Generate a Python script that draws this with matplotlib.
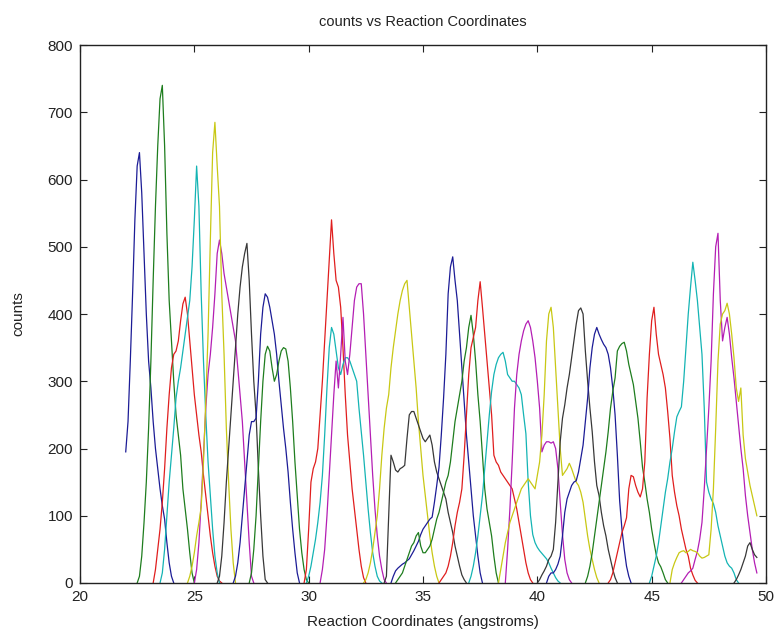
import numpy as np
import matplotlib.pyplot as plt

plt.rcParams['font.family'] = ['Liberation Sans', 'DejaVu Sans']

# histogram bin width (angstroms) and first bin of each umbrella window
bin_width = 0.1
window_starts = [22.0, 22.5, 23.2, 23.5, 25.0, 24.7, 26.0,
                 26.7, 27.4, 29.8, 29.9, 30.5, 32.4, 33.3,
                 33.6, 33.8, 35.7, 37.0, 38.6, 38.3, 40.0,
                 40.4, 42.1, 43.1, 44.9, 46.3, 45.8, 48.6]

# counts per bin, one list per window
win01 = [195, 240, 330, 430, 540, 620, 640, 580, 490, 400, 330, 290, 240, 200, 170, 140, 115, 95, 60, 30, 10, 0]
win02 = [0, 10, 40, 90, 150, 230, 330, 450, 560, 650, 720, 740, 650, 520, 420, 360, 300, 250, 220, 190, 140, 110, 80, 45, 15, 0]
win03 = [0, 20, 50, 80, 120, 170, 230, 280, 320, 340, 345, 360, 390, 415, 425, 400, 360, 320, 280, 250, 220, 195, 160, 130, 100, 70, 45, 25, 10, 3, 0]
win04 = [0, 15, 50, 100, 150, 190, 230, 275, 300, 320, 345, 370, 395, 420, 470, 540, 620, 560, 430, 330, 250, 180, 130, 80, 40, 15, 0]
win05 = [0, 20, 60, 120, 190, 260, 310, 340, 380, 430, 490, 510, 490, 460, 440, 420, 400, 380, 360, 320, 280, 240, 180, 120, 60, 10, 0]
win06 = [0, 10, 25, 45, 70, 90, 113, 180, 270, 370, 510, 640, 685, 620, 560, 430, 340, 230, 150, 80, 30, 0]
win07 = [0, 10, 40, 90, 150, 200, 250, 300, 350, 400, 440, 470, 490, 505, 450, 370, 300, 250, 170, 100, 40, 5, 0]
win08 = [0, 10, 30, 60, 100, 140, 180, 220, 240, 240, 245, 300, 370, 410, 430, 425, 410, 390, 370, 340, 300, 265, 230, 200, 165, 120, 80, 45, 15, 0]
win09 = [0, 15, 50, 100, 170, 240, 300, 340, 352, 345, 320, 300, 310, 330, 345, 350, 348, 330, 290, 240, 180, 130, 80, 45, 20, 5, 0]
win10 = [0, 20, 80, 150, 170, 180, 200, 250, 300, 360, 420, 480, 540, 490, 450, 440, 410, 350, 280, 220, 180, 140, 110, 80, 50, 25, 8, 0]
win11 = [0, 10, 25, 45, 65, 90, 120, 160, 220, 290, 350, 380, 370, 345, 320, 310, 325, 335, 335, 330, 320, 310, 300, 260, 225, 190, 150, 110, 75, 45, 25, 10, 3, 0]
win12 = [0, 20, 50, 100, 160, 220, 280, 330, 290, 340, 395, 330, 310, 340, 380, 420, 440, 445, 445, 400, 340, 280, 220, 160, 110, 70, 40, 20, 5, 0]
win13 = [0, 5, 15, 30, 50, 75, 100, 140, 190, 230, 260, 280, 320, 350, 375, 400, 420, 435, 445, 450, 410, 370, 330, 290, 240, 200, 160, 130, 100, 70, 45, 25, 10, 0]
win14 = [0, 10, 100, 190, 180, 168, 165, 170, 172, 175, 215, 250, 255, 255, 245, 235, 225, 215, 210, 215, 220, 205, 180, 165, 155, 145, 135, 125, 105, 90, 75, 55, 40, 25, 12, 5, 0]
win15 = [0, 10, 18, 22, 25, 28, 30, 33, 36, 42, 48, 55, 62, 72, 80, 85, 90, 95, 98, 120, 145, 172, 220, 275, 340, 430, 470, 485, 450, 420, 370, 320, 270, 220, 180, 140, 100, 70, 40, 15, 0]
win16 = [0, 5, 10, 15, 25, 35, 45, 55, 60, 70, 75, 55, 45, 45, 50, 55, 65, 80, 95, 105, 120, 135, 150, 160, 180, 210, 240, 260, 280, 300, 330, 350, 380, 398, 370, 330, 280, 240, 190, 140, 110, 90, 70, 40, 15, 0]
win17 = [0, 5, 10, 15, 25, 40, 60, 85, 105, 120, 140, 190, 250, 310, 350, 365, 380, 420, 448, 410, 370, 330, 290, 250, 190, 180, 175, 165, 160, 155, 150, 145, 140, 125, 110, 90, 70, 50, 30, 15, 5, 0]
win18 = [0, 10, 25, 45, 70, 100, 130, 170, 210, 250, 285, 310, 325, 335, 340, 343, 330, 310, 305, 300, 300, 295, 290, 280, 250, 222, 150, 100, 72, 60, 53, 48, 44, 40, 36, 30, 22, 15, 8, 3, 0]
win19 = [0, 50, 110, 180, 260, 310, 340, 360, 375, 385, 390, 380, 360, 335, 300, 260, 195, 205, 210, 210, 208, 210, 200, 170, 120, 72, 35, 15, 5, 0]
win20 = [0, 20, 40, 60, 75, 90, 100, 110, 120, 130, 140, 145, 150, 155, 150, 145, 140, 160, 180, 220, 280, 360, 400, 410, 380, 320, 260, 200, 160, 165, 170, 178, 170, 160, 150, 145, 135, 120, 95, 70, 50, 35, 20, 8, 0]
win21 = [0, 5, 12, 18, 25, 35, 40, 50, 90, 150, 210, 245, 265, 290, 310, 335, 360, 385, 405, 409, 400, 345, 300, 260, 225, 180, 145, 130, 105, 85, 70, 50, 35, 20, 8, 0]
win22 = [0, 10, 15, 15, 20, 28, 40, 70, 105, 125, 135, 145, 150, 152, 165, 185, 205, 240, 275, 320, 350, 370, 380, 370, 362, 355, 350, 340, 320, 290, 250, 190, 122, 80, 50, 25, 10, 0]
win23 = [0, 10, 25, 45, 70, 95, 120, 145, 170, 195, 225, 260, 285, 305, 345, 352, 356, 358, 345, 325, 310, 295, 270, 245, 210, 172, 150, 125, 105, 80, 60, 42, 30, 24, 15, 5, 0]
win24 = [0, 5, 15, 30, 45, 60, 75, 85, 97, 140, 160, 158, 145, 135, 128, 140, 180, 275, 340, 390, 410, 370, 340, 325, 310, 290, 255, 215, 160, 135, 115, 100, 80, 65, 50, 40, 22, 12, 4, 0]
win25 = [0, 10, 25, 40, 60, 85, 110, 135, 155, 180, 200, 225, 247, 255, 262, 300, 350, 400, 440, 477, 450, 420, 380, 340, 260, 150, 135, 125, 118, 105, 85, 70, 55, 40, 30, 25, 22, 15, 5, 0]
win26 = [0, 5, 10, 15, 18, 22, 35, 47, 65, 90, 140, 200, 260, 330, 430, 500, 520, 420, 360, 380, 395, 370, 335, 305, 270, 235, 200, 170, 130, 100, 75, 50, 30, 15]
win27 = [0, 20, 30, 38, 45, 47, 48, 45, 47, 50, 48, 47, 45, 40, 37, 38, 40, 42, 80, 140, 230, 330, 385, 400, 405, 416, 400, 370, 335, 290, 270, 290, 220, 185, 165, 145, 130, 115, 100]
win28 = [0, 5, 12, 20, 30, 40, 55, 60, 50, 42, 38]

windows = [win01, win02, win03, win04, win05, win06, win07,
           win08, win09, win10, win11, win12, win13, win14,
           win15, win16, win17, win18, win19, win20, win21,
           win22, win23, win24, win25, win26, win27, win28]

# old matlab color order b g r c m y k (a bit darker, as in the jpeg)
color_order = ['#1c1c96', '#1e7d1e', '#e01e1e', '#14b4b4',
               '#b41eb4', '#c8c814', '#383838']

fig = plt.figure(figsize=(7.75, 6.38), dpi=100)
ax = fig.add_axes([80 / 775, 55 / 638, 686 / 775, 538 / 638])

for i, counts in enumerate(windows):
    x = window_starts[i] + bin_width * np.arange(len(counts))
    ax.plot(x, counts, color=color_order[i % 7], lw=0.9)

ax.set_xlim(20, 50)
ax.set_ylim(0, 800)
ax.set_xticks(np.arange(20, 51, 5))
ax.set_yticks(np.arange(0, 801, 100))
ax.tick_params(direction='in', top=True, right=True, length=5, width=0.8,
               labelsize=11, pad=5, colors='#222222')
for s in ax.spines.values():
    s.set_linewidth(1.0)
    s.set_color('#222222')

ax.set_title('counts vs Reaction Coordinates', fontsize=10.5, pad=14, color='#222222')
ax.set_xlabel('Reaction Coordinates (angstroms)', fontsize=11, labelpad=8, color='#222222')
ax.set_ylabel('counts', fontsize=11, labelpad=16, color='#222222')

fig.savefig('out.png', dpi=100)
